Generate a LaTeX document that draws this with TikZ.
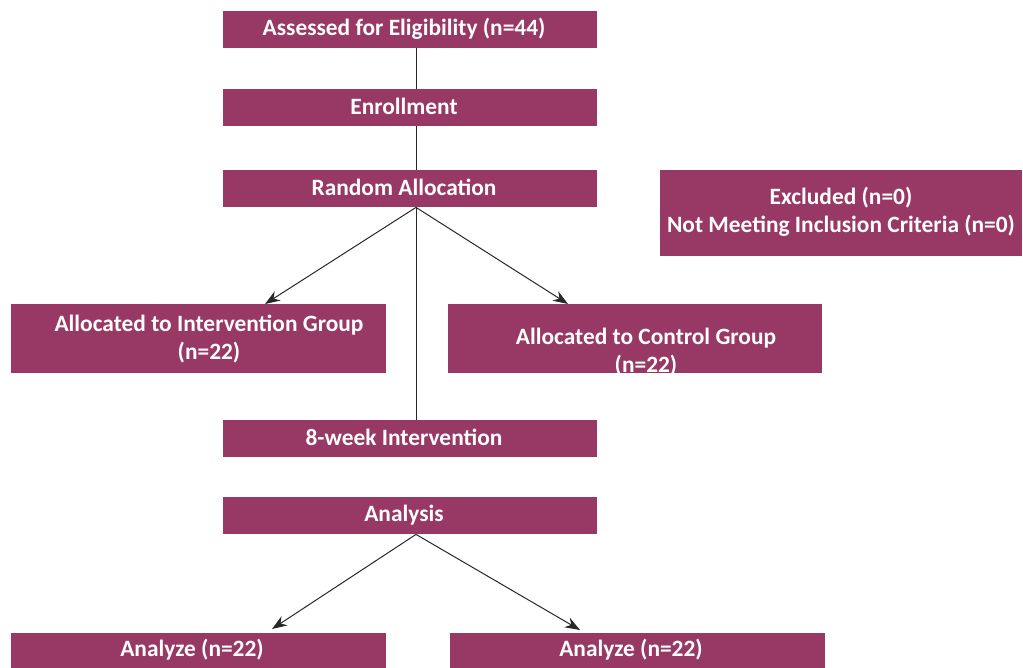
\documentclass[tikz,border=0pt]{standalone}
\usepackage{fontspec}
\setmainfont{Carlito}
\usetikzlibrary{arrows.meta,calc}
\definecolor{boxc}{RGB}{152,56,100}
\definecolor{linec}{RGB}{40,40,40}
\tikzset{
  box/.style={draw=none,fill=boxc,inner sep=0pt,anchor=north west},
  conn/.style={draw=linec,line width=1pt},
  arr/.style={conn,-{Stealth[length=15pt,width=11pt]}},
  txt/.style={text=white,font=\bfseries\fontsize{23.4}{28.5}\selectfont,align=center,inner sep=0pt}
}
\begin{document}
\begin{tikzpicture}[x=1pt,y=-1pt]
\useasboundingbox (0,0) rectangle (1023,668);
\node[box,minimum width=374pt,minimum height=37pt] (ae) at (223,11) {};
\node[txt] (aet) at (404,29) {Assessed for Eligibility (n=44)};
\node[box,minimum width=374pt,minimum height=37pt] (en) at (223,89) {};
\node[txt] (ent) at (404,106) {Enrollment};
\node[box,minimum width=374pt,minimum height=37pt] (ra) at (223,170) {};
\node[txt] (rat) at (404,187) {Random Allocation};
\node[box,minimum width=362pt,minimum height=86pt] (ex) at (660,170) {};
\node[txt] (ext) at (841,212) {Excluded (n=0)\\Not Meeting Inclusion Criteria (n=0)};
\node[box,minimum width=375pt,minimum height=69pt] (ig) at (11,304) {};
\node[txt] (igt) at (209,339) {Allocated to Intervention Group\\(n=22)};
\node[box,minimum width=374pt,minimum height=69pt] (cg) at (448,304) {};
\node[txt] (cgt) at (646,352) {Allocated to Control Group\\(n=22)};
\node[box,minimum width=374pt,minimum height=37pt] (wk) at (223,420) {};
\node[txt] (wkt) at (404,437) {8-week Intervention};
\node[box,minimum width=374pt,minimum height=37pt] (an) at (223,497) {};
\node[txt] (ant) at (404,515) {Analysis};
\node[box,minimum width=375pt,minimum height=36pt] (al) at (11,633) {};
\node[txt] (alt) at (192,650) {Analyze (n=22)};
\node[box,minimum width=375pt,minimum height=36pt] (ar) at (450,633) {};
\node[txt] (art) at (631,650) {Analyze (n=22)};
% connectors
\draw[conn] ($(ae.south west)+(193,0)$) -- ($(en.north west)+(193,0)$);
\draw[conn] ($(en.south west)+(193,0)$) -- ($(ra.north west)+(193,0)$);
\draw[conn] ($(ra.south west)+(193,0)$) -- ($(wk.north west)+(193,0)$);
\draw[arr] ($(ra.south west)+(193,0)$) -- ($(ig.north west)+(254,0)$);
\draw[arr] ($(ra.south west)+(193,0)$) -- ($(cg.north west)+(120,0)$);
\draw[arr] ($(an.south west)+(193,0)$) -- ($(al.north west)+(261,-4)$);
\draw[arr] ($(an.south west)+(193,0)$) -- ($(ar.north west)+(130,-3)$);
\end{tikzpicture}
\end{document}
